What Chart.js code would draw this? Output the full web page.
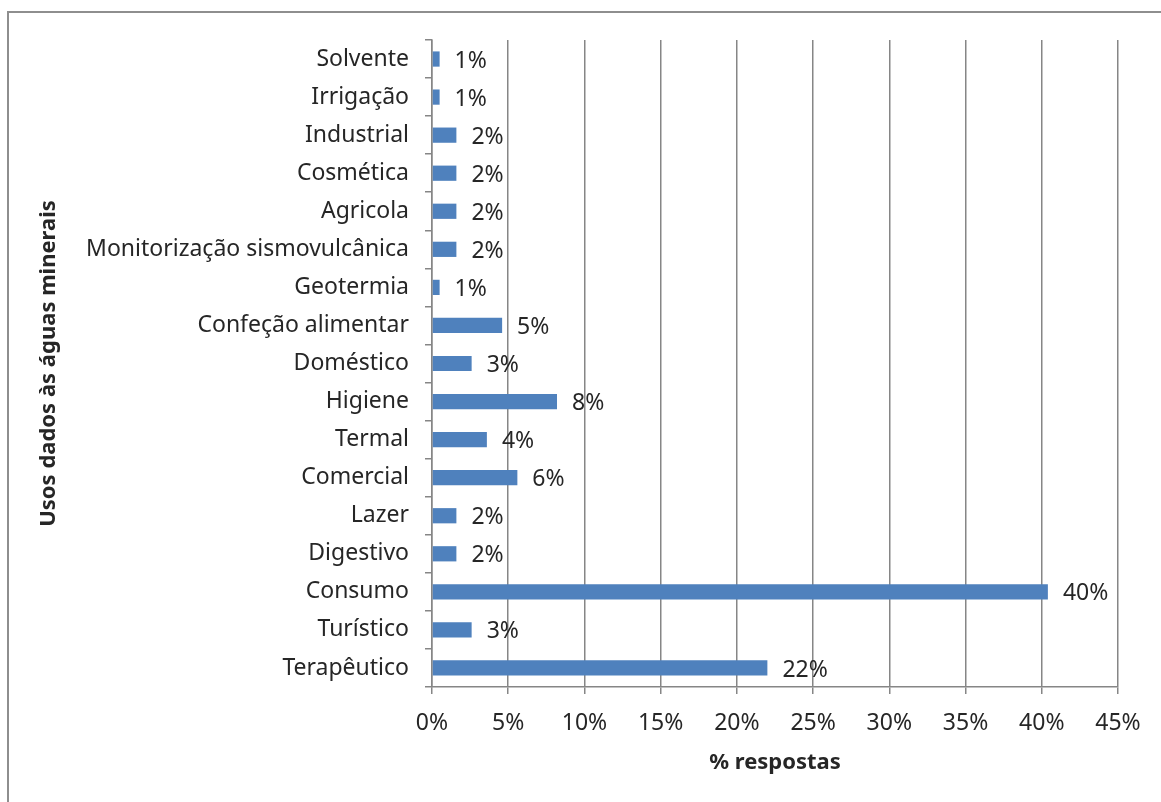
<!DOCTYPE html>
<html>
<head>
<meta charset="utf-8">
<script src="https://cdn.jsdelivr.net/npm/chart.js@4/dist/chart.umd.min.js"></script>
<style>
  body { margin: 0; background: #fff; }
  #wrap { position: relative; width: 1161px; height: 802px; }
  #frame { position: absolute; left: 7px; top: 11px; width: 1200px; height: 900px;
           border-left: 2px solid #8e8e8e; border-top: 2px solid #8e8e8e; }
  canvas { position: absolute; left: 0; top: 0; }
</style>
</head>
<body>
<div id="wrap">
  <div id="frame"></div>
  <canvas id="usosChart" width="1161" height="802"></canvas>
</div>
<script>
const categories = [
  "Solvente", "Irrigação", "Industrial", "Cosmética", "Agricola",
  "Monitorização sismovulcânica", "Geotermia", "Confeção alimentar",
  "Doméstico", "Higiene", "Termal", "Comercial", "Lazer", "Digestivo",
  "Consumo", "Turístico", "Terapêutico"
];
const respostas = [0.5, 0.5, 1.6, 1.6, 1.6, 1.6, 0.5, 4.6, 2.6, 8.2, 3.6, 5.6, 1.6, 1.6, 40.4, 2.6, 22.0];
const valueLabels = ["1%", "1%", "2%", "2%", "2%", "2%", "1%", "5%", "3%", "8%", "4%", "6%", "2%", "2%", "40%", "3%", "22%"];
const xTicks = [0, 5, 10, 15, 20, 25, 30, 35, 40, 45];

const FONT = "'Noto Sans', sans-serif";
const TEXT = "#262626";
const GRID = "#868686";

// write the rounded % after each bar
const barLabels = {
  id: "barLabels",
  afterDatasetsDraw(chart) {
    const ctx = chart.ctx;
    const meta = chart.getDatasetMeta(0);
    ctx.save();
    ctx.font = "23px " + FONT;
    ctx.fillStyle = TEXT;
    ctx.textBaseline = "middle";
    ctx.textAlign = "left";
    meta.data.forEach((bar, i) => {
      ctx.fillText(valueLabels[i], bar.x + 15, bar.y + 2);
    });
    ctx.restore();
  }
};

const ctxUsos = document.getElementById("usosChart").getContext("2d");
new Chart(ctxUsos, {
  type: "bar",
  data: {
    labels: categories,
    datasets: [
      {
        label: "% respostas",
        data: respostas,
        backgroundColor: "#4F81BD",
        borderWidth: 0,
        barPercentage: 0.4,
        categoryPercentage: 1,
      },
    ],
  },
  options: {
    indexAxis: "y",
    responsive: false,
    animation: false,
    layout: { padding: { left: 36, top: 40, right: 43, bottom: 22 } },
    plugins: {
      legend: { display: false },
      tooltip: { enabled: false },
    },
    scales: {
      x: {
        min: 0,
        max: 45,
        afterBuildTicks: (scale) => { scale.ticks = xTicks.map((v) => ({ value: v })); },
        afterFit: (scale) => { scale.height = 93; },
        ticks: {
          callback: (v) => v + "%",
          color: TEXT,
          font: { family: FONT, size: 23 },
          padding: 16,
          maxRotation: 0,
        },
        grid: { color: GRID, lineWidth: 1.5, tickLength: 7 },
        border: { color: GRID, width: 1.5 },
        title: {
          display: true,
          text: "% respostas",
          color: TEXT,
          font: { family: FONT, size: 22, weight: "bold" },
          padding: { top: 12 },
        },
      },
      y: {
        afterFit: (scale) => { scale.width = 396; },
        ticks: {
          color: TEXT,
          font: { family: FONT, size: 23 },
          padding: 16,
        },
        grid: { drawOnChartArea: false, color: GRID, lineWidth: 1.5, tickLength: 7 },
        border: { color: GRID, width: 1.5 },
        title: {
          display: true,
          text: "Usos dados às águas minerais",
          color: TEXT,
          font: { family: FONT, size: 22, weight: "bold" },
          padding: 0,
        },
      },
    },
  },
  plugins: [barLabels],
});
</script>
</body>
</html>
